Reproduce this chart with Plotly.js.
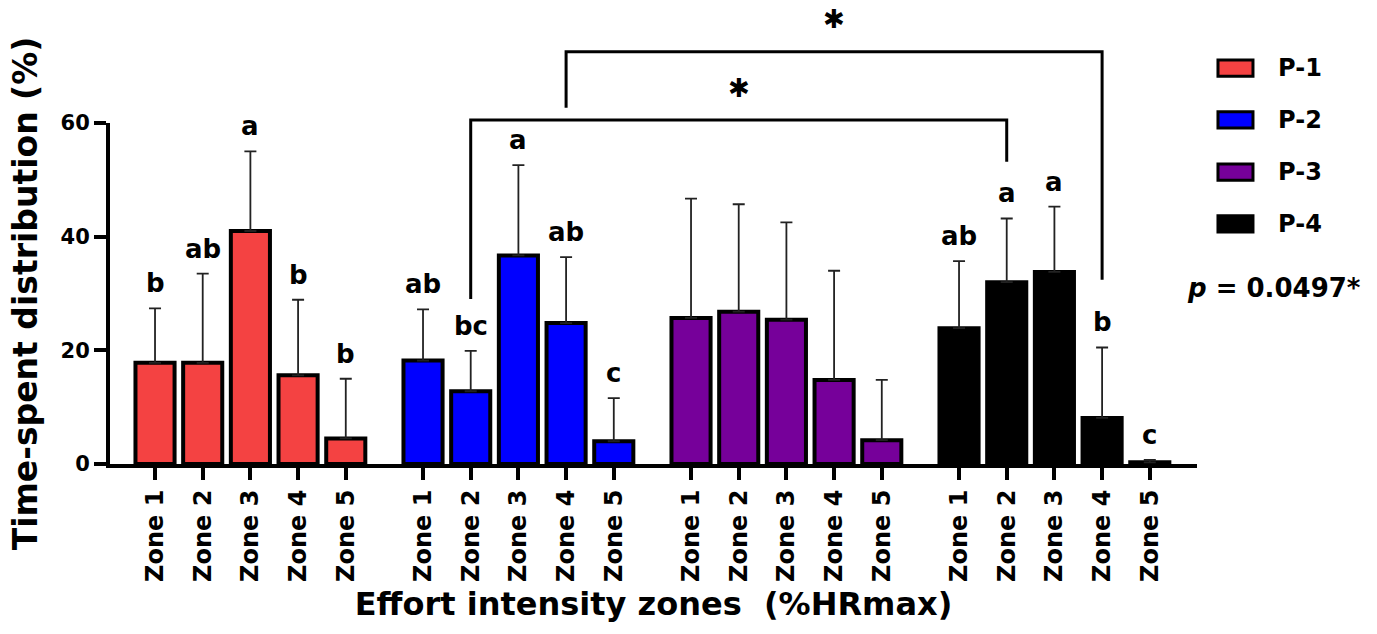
<!DOCTYPE html>
<html>
<head>
<meta charset="utf-8">
<script src="https://cdn.plot.ly/plotly-3.0.1.min.js"></script>
<style>html,body{margin:0;padding:0;background:#fff;}#chart{width:1377px;height:634px;}</style>
</head>
<body>
<div id="chart"></div>
<script>
// ---- data ----
const zones = ['Zone 1', 'Zone 2', 'Zone 3', 'Zone 4', 'Zone 5'];
const seriesNames = ['P-1', 'P-2', 'P-3', 'P-4'];
const seriesColors = ['#F44242', '#0000FF', '#76009A', '#000000'];
const p1Mean = [17.8, 17.8, 41.0, 15.6, 4.5];
const p1SD   = [9.6, 15.7, 14.0, 13.3, 10.5];
const p2Mean = [18.2, 12.8, 36.7, 24.8, 4.0];
const p2SD   = [9.0, 7.1, 15.9, 11.6, 7.6];
const p3Mean = [25.7, 26.8, 25.4, 14.8, 4.2];
const p3SD   = [21.0, 18.9, 17.1, 19.2, 10.6];
const p4Mean = [23.9, 32.0, 33.8, 8.1, 0.3];
const p4SD   = [11.8, 11.2, 11.5, 12.4, 0.4];
const p1Letters = ['b', 'ab', 'a', 'b', 'b'];
const p2Letters = ['ab', 'bc', 'a', 'ab', 'c'];
const p3Letters = ['', '', '', '', ''];
const p4Letters = ['ab', 'a', 'a', 'b', 'c'];
const pText = '<i>p</i> = 0.0497*';
const yTicks = [0, 20, 40, 60];

const means = [p1Mean, p2Mean, p3Mean, p4Mean];
const sds = [p1SD, p2SD, p3SD, p4SD];
const letters = [p1Letters, p2Letters, p3Letters, p4Letters];

// ---- layout helpers ----
const groupPeriod = 5.62;
const pos = (g, z) => g * groupPeriod + z + 1;
const FONT = 'DejaVu Sans, Verdana, sans-serif';

const traces = [];
const tickvals = [], ticktext = [];
const annotations = [];
means.forEach((m, g) => {
  const xs = zones.map((_, z) => pos(g, z));
  xs.forEach((x, z) => { tickvals.push(x); ticktext.push(zones[z]); });
  traces.push({
    type: 'bar', name: seriesNames[g], x: xs, y: m, width: 0.82,
    marker: {color: seriesColors[g], line: {color: '#000', width: 4}},
    error_y: {type: 'data', symmetric: false, array: sds[g], arrayminus: m.map(() => 0),
              color: '#222', thickness: 1.8, width: 6},
    showlegend: false, cliponaxis: false
  });
  letters[g].forEach((t, z) => {
    if (!t) return;
    annotations.push({x: xs[z], y: m[z] + sds[g][z], xref: 'x', yref: 'y', text: t,
      showarrow: false, yanchor: 'bottom', yshift: 8,
      font: {family: FONT, size: 26, color: '#000', weight: 'bold'}});
  });
});

// brackets (comparison lines), y in paper units
const shapes = [];
const bracket = (xa, xb, yl, yr, yh) => {
  shapes.push({type: 'path', xref: 'x', yref: 'paper',
    path: `M${xa},${yl} L${xa},${yh} L${xb},${yh} L${xb},${yr}`,
    line: {color: '#000', width: 3}});
};
bracket(pos(1, 1), pos(3, 1), 0.484, 0.886, 1.009);
bracket(pos(1, 3), pos(3, 3), 1.045, 0.540, 1.209);
annotations.push({x: (pos(1, 1) + pos(3, 1)) / 2, y: 1.153, xref: 'x', yref: 'paper', text: '✱',
  showarrow: false, font: {family: FONT, size: 26, color: '#000'}});
annotations.push({x: (pos(1, 3) + pos(3, 3)) / 2, y: 1.355, xref: 'x', yref: 'paper', text: '✱',
  showarrow: false, font: {family: FONT, size: 26, color: '#000'}});

// custom legend
const legY = [1.161, 1.009, 0.856, 0.704];
seriesNames.forEach((n, i) => {
  shapes.push({type: 'rect', xref: 'paper', yref: 'paper', x0: 1.0193, x1: 1.0515,
    y0: legY[i] - 0.024, y1: legY[i] + 0.024, fillcolor: seriesColors[i],
    line: {color: '#000', width: 3}});
  annotations.push({x: 1.0727, y: legY[i], xref: 'paper', yref: 'paper', text: n,
    showarrow: false, xanchor: 'left', yanchor: 'middle',
    font: {family: FONT, size: 24, color: '#000', weight: 'bold'}});
});
annotations.push({x: 0.989, y: 0.516, xref: 'paper', yref: 'paper', text: pText,
  showarrow: false, xanchor: 'left', yanchor: 'middle',
  font: {family: FONT, size: 26, color: '#000', weight: 'bold'}});

const layout = {
  width: 1377, height: 634,
  margin: {l: 110, r: 180, t: 123, b: 170},
  paper_bgcolor: '#fff', plot_bgcolor: '#fff',
  barmode: 'overlay',
  font: {family: FONT, color: '#000'},
  xaxis: {
    range: [0.056, 22.85], tickmode: 'array', tickvals: tickvals, ticktext: ticktext,
    tickangle: -90, ticks: 'outside', ticklen: 12, tickwidth: 4, tickcolor: '#000',
    showline: true, linewidth: 4, linecolor: '#000', showgrid: false, zeroline: false,
    tickfont: {family: FONT, size: 24, color: '#000', weight: 'bold'},
    title: {text: 'Effort intensity zones  (%HRmax)', standoff: 13,
            font: {family: FONT, size: 32, color: '#000', weight: 'bold'}},
    automargin: false
  },
  yaxis: {
    range: [0, 60], tickmode: 'array', tickvals: yTicks, ticktext: yTicks.map(String),
    ticks: 'outside', ticklen: 12, tickwidth: 4, tickcolor: '#000',
    showline: true, linewidth: 4, linecolor: '#000', showgrid: false, zeroline: false,
    tickfont: {family: FONT, size: 21, color: '#000', weight: 'bold'},
    title: {text: 'Time-spent distribution (%)', standoff: 14,
            font: {family: FONT, size: 33, color: '#000', weight: 'bold'}},
    automargin: false
  },
  shapes: shapes,
  annotations: annotations
};

Plotly.newPlot('chart', traces, layout, {displayModeBar: false, staticPlot: true});
</script>
</body>
</html>
